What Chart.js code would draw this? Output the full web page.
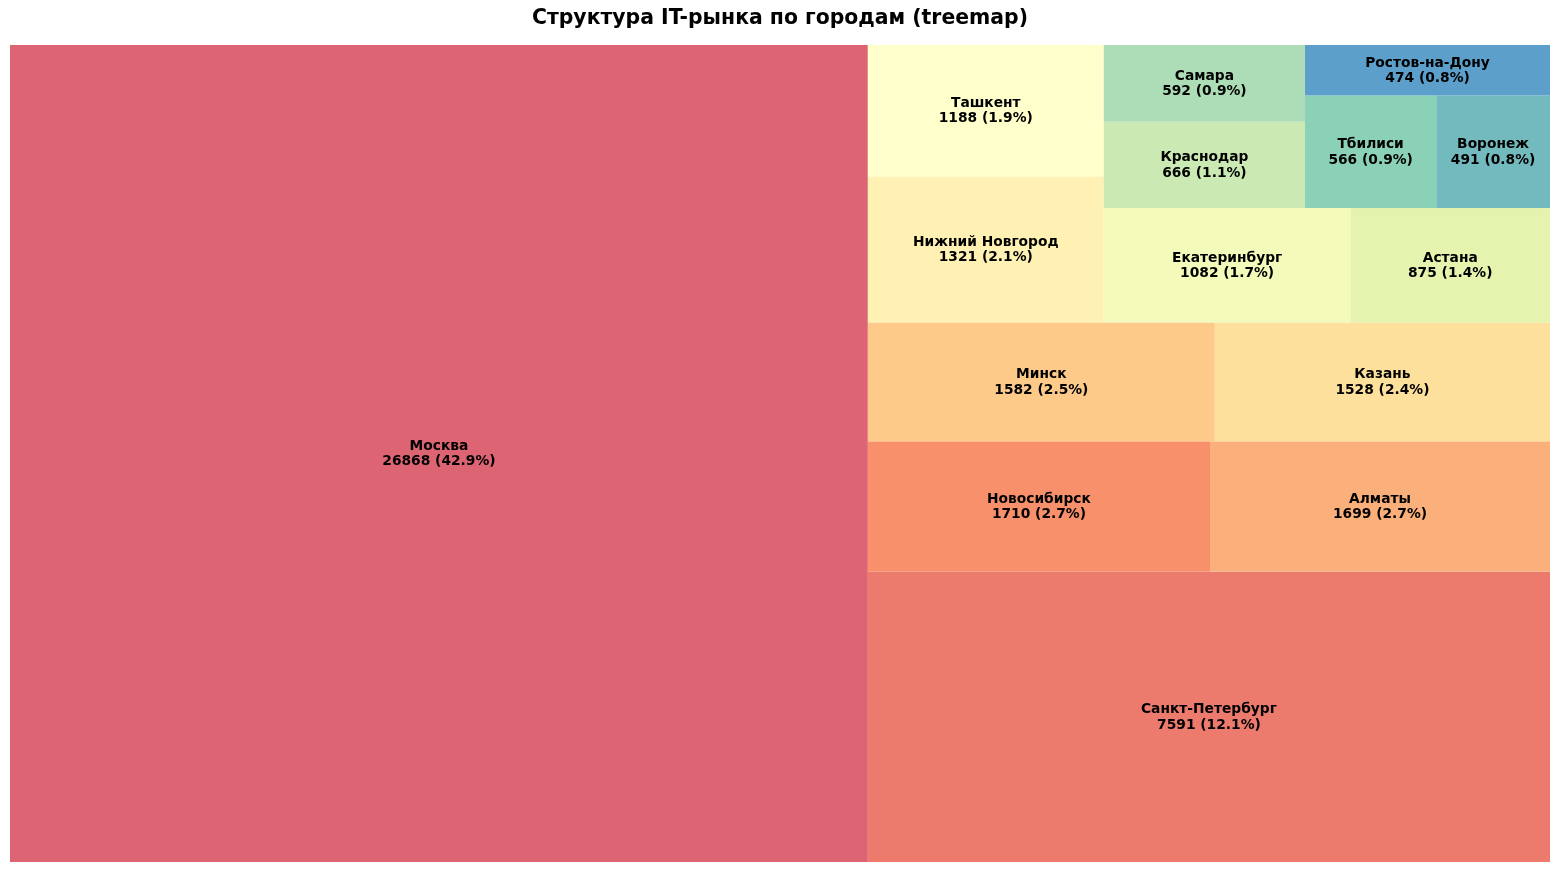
<!DOCTYPE html>
<html><head><meta charset="utf-8">
<script src="https://cdn.jsdelivr.net/npm/chart.js@4/dist/chart.umd.min.js"></script>
<style>html,body{margin:0;padding:0;background:#fff}#wrap{width:1560px;height:872px;position:relative}</style>
</head><body><div id="wrap"><canvas id="c"></canvas></div>
<script>
// ---- data ----
const cities = ['Москва','Санкт-Петербург','Новосибирск','Алматы','Минск','Казань','Нижний Новгород','Ташкент','Екатеринбург','Астана','Краснодар','Самара','Тбилиси','Воронеж','Ростов-на-Дону'];
const values = [26868,7591,1710,1699,1582,1528,1321,1188,1082,875,666,592,566,491,474];
const shares = [42.9,12.1,2.7,2.7,2.5,2.4,2.1,1.9,1.7,1.4,1.1,0.9,0.9,0.8,0.8];
const titleText = 'Структура IT-рынка по городам (treemap)';

// ---- styling: Spectral colormap anchors ----
const spectral = [[158,1,66],[213,62,79],[244,109,67],[253,174,97],[254,224,139],[255,255,191],[230,245,152],[171,221,164],[102,194,165],[50,136,189],[94,79,162]];
function spectralAt(t){
  const q=Math.floor(t*256)/255;
  const p=q*10, i=Math.min(9,Math.floor(p)), f=p-i;
  const a=spectral[i], b=spectral[i+1];
  const alpha=0.8;
  const c=a.map((v,k)=>v+(b[k]-v)*f).map(v=>Math.round(v*alpha+255*(1-alpha)));
  return `rgb(${c[0]},${c[1]},${c[2]})`;
}
const colors = values.map((_,i)=>spectralAt(0.1+0.8*i/(values.length-1)));

// ---- squarify layout (same algorithm as python squarify) ----
const sum=a=>a.reduce((s,v)=>s+v,0);
function normalize(s,dx,dy){const t=sum(s);return s.map(v=>v*dx*dy/t);}
function layoutrow(s,x,y,dx,dy){const w=sum(s)/dy;return s.map(v=>{const r={x,y,dx:w,dy:v/w};y+=v/w;return r;});}
function layoutcol(s,x,y,dx,dy){const h=sum(s)/dx;return s.map(v=>{const r={x,y,dx:v/h,dy:h};x+=v/h;return r;});}
function layout(s,x,y,dx,dy){return dx>=dy?layoutrow(s,x,y,dx,dy):layoutcol(s,x,y,dx,dy);}
function leftover(s,x,y,dx,dy){const c=sum(s);if(dx>=dy){const w=c/dy;return [x+w,y,dx-w,dy];}const h=c/dx;return [x,y+h,dx,dy-h];}
function worst(s,x,y,dx,dy){return Math.max(...layout(s,x,y,dx,dy).map(r=>Math.max(r.dx/r.dy,r.dy/r.dx)));}
function squarify(s,x,y,dx,dy){
  if(!s.length)return [];
  if(s.length===1)return layout(s,x,y,dx,dy);
  let i=1;
  while(i<s.length && worst(s.slice(0,i),x,y,dx,dy)>=worst(s.slice(0,i+1),x,y,dx,dy)) i++;
  const cur=s.slice(0,i), rem=s.slice(i);
  const [lx,ly,ldx,ldy]=leftover(cur,x,y,dx,dy);
  return layout(cur,x,y,dx,dy).concat(squarify(rem,lx,ly,ldx,ldy));
}
const N=100;
const rects = squarify(normalize(values,N,N),0,0,N,N);
const points = rects.map((r,i)=>({x:r.x+r.dx/2,y:r.y+r.dy/2,r,label:[cities[i],`${values[i]} (${shares[i].toFixed(1)}%)`],color:colors[i]}));

const treemapPlugin = {
  id:'treemap',
  beforeDatasetsDraw(chart){
    const {ctx, scales:{x:xs,y:ys}} = chart;
    const pts = chart.data.datasets[0].data;
    ctx.save();
    pts.forEach(p=>{
      const x0=xs.getPixelForValue(p.r.x), x1=xs.getPixelForValue(p.r.x+p.r.dx);
      const y0=ys.getPixelForValue(p.r.y+p.r.dy), y1=ys.getPixelForValue(p.r.y);
      ctx.fillStyle=p.color;
      ctx.fillRect(x0,y0,x1-x0,y1-y0);
    });
    ctx.restore();
  },
  afterDatasetsDraw(chart){
    const {ctx} = chart;
    const meta = chart.getDatasetMeta(0);
    const pts = chart.data.datasets[0].data;
    ctx.save();
    ctx.font='bold 13.8px "DejaVu Sans"';
    ctx.fillStyle='#000';
    ctx.textAlign='center';
    ctx.textBaseline='middle';
    const lh=15.5;
    meta.data.forEach((el,i)=>{
      const lines=pts[i].label;
      const y0=el.y-(lines.length-1)*lh/2+0.5;
      lines.forEach((t,k)=>ctx.fillText(t,el.x,y0+k*lh));
    });
    ctx.restore();
  }
};

new Chart(document.getElementById('c'),{
  type:'scatter',
  data:{datasets:[{data:points,pointRadius:0,pointHoverRadius:0}]},
  plugins:[treemapPlugin],
  options:{
    responsive:true,maintainAspectRatio:false,animation:false,
    layout:{padding:{left:10,right:10,top:0,bottom:10}},
    scales:{
      x:{type:'linear',min:0,max:N,display:false},
      y:{type:'linear',min:0,max:N,display:false}
    },
    plugins:{
      legend:{display:false},tooltip:{enabled:false},
      title:{display:true,text:titleText,color:'#000',font:{family:'DejaVu Sans',size:20.4,weight:'bold',lineHeight:1.2},padding:{top:6.5,bottom:14}}
    }
  }
});
</script></body></html>
